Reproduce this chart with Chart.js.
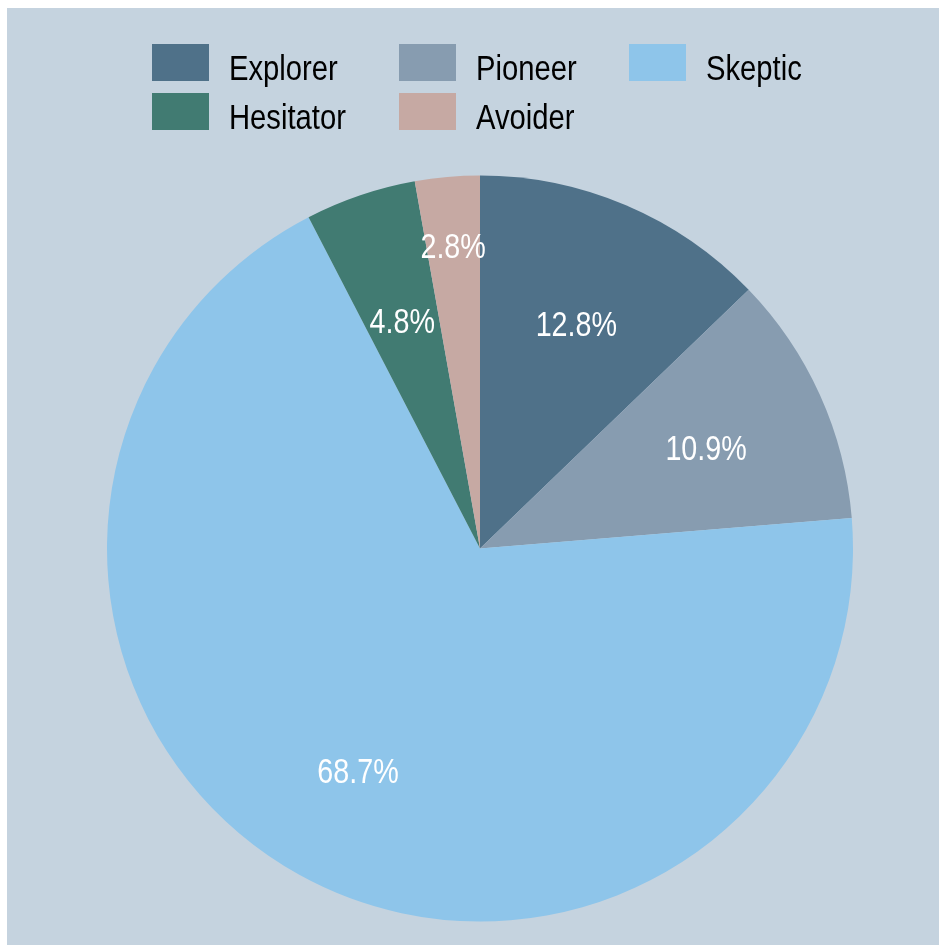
<!DOCTYPE html>
<html>
<head>
<meta charset="utf-8">
<script src="https://cdn.jsdelivr.net/npm/chart.js@4"></script>
<style>
  html, body { margin: 0; padding: 0; background: #ffffff; }
  body { width: 940px; height: 945px; position: relative; overflow: hidden; }
  #panel { position: absolute; left: 7px; top: 8px; width: 932px; height: 937px; background: #c5d3df; }
  #chart { position: absolute; left: 0; top: 0; width: 932px; height: 937px; }
  #legend { position: absolute; left: 145px; top: 36px; display: grid;
            grid-template-columns: 247px 230px auto; row-gap: 12px;
            font-family: "Liberation Sans", Arial, sans-serif;
            font-size: 35px; color: #000; }
  .item { display: flex; align-items: center; height: 37px; }
  .box { width: 57px; height: 37px; margin-right: 20px; flex: none; }
  .lbl { line-height: 37px; position: relative; top: 5px; white-space: nowrap;
         display: inline-block; transform: scaleX(0.835); transform-origin: 0 50%; }
</style>
</head>
<body>
<div id="panel">
  <canvas id="chart" width="932" height="937"></canvas>
  <div id="legend"></div>
</div>
<script>
const categories = ["Explorer", "Pioneer", "Skeptic", "Hesitator", "Avoider"];
const shares = [12.8, 10.9, 68.7, 4.8, 2.8];
const pctLabels = ["12.8%", "10.9%", "68.7%", "4.8%", "2.8%"];
const colors = ["#4f7189", "#879cb0", "#8ec5ea", "#417b72", "#c6a9a3"];
const labelDistance = [0.66, 0.665, 0.675, 0.65, 0.82];

const FONT = '"Liberation Sans", Arial, sans-serif';

const pctPlugin = {
  id: 'pctLabels',
  afterDatasetsDraw(chart) {
    const ctx = chart.ctx;
    const meta = chart.getDatasetMeta(0);
    meta.data.forEach((arc, i) => {
      const p = arc.getProps(['x', 'y', 'startAngle', 'endAngle', 'outerRadius'], true);
      const mid = (p.startAngle + p.endAngle) / 2;
      const r = p.outerRadius * labelDistance[i];
      const x = p.x + Math.cos(mid) * r;
      const y = p.y + Math.sin(mid) * r;
      ctx.save();
      ctx.fillStyle = '#ffffff';
      ctx.font = '35px ' + FONT;
      ctx.textAlign = 'center';
      ctx.textBaseline = 'alphabetic';
      ctx.translate(x, y);
      ctx.scale(0.82, 1);
      ctx.fillText(pctLabels[i], 0, 14);
      ctx.restore();
    });
  }
};

new Chart(document.getElementById('chart'), {
  type: 'pie',
  data: {
    labels: categories,
    datasets: [{
      data: shares,
      backgroundColor: colors,
      borderWidth: 0,
      hoverOffset: 0
    }]
  },
  options: {
    responsive: false,
    animation: false,
    radius: 373,
    layout: { padding: { top: 150, bottom: 6, left: 14, right: 0 } },
    plugins: {
      legend: { display: false },
      tooltip: { enabled: false }
    },
    events: []
  },
  plugins: [pctPlugin]
});

const legendEl = document.getElementById('legend');
categories.forEach((name, i) => {
  const item = document.createElement('div');
  item.className = 'item';
  const box = document.createElement('span');
  box.className = 'box';
  box.style.background = colors[i];
  const lbl = document.createElement('span');
  lbl.className = 'lbl';
  lbl.textContent = name;
  item.appendChild(box);
  item.appendChild(lbl);
  legendEl.appendChild(item);
});
</script>
</body>
</html>
